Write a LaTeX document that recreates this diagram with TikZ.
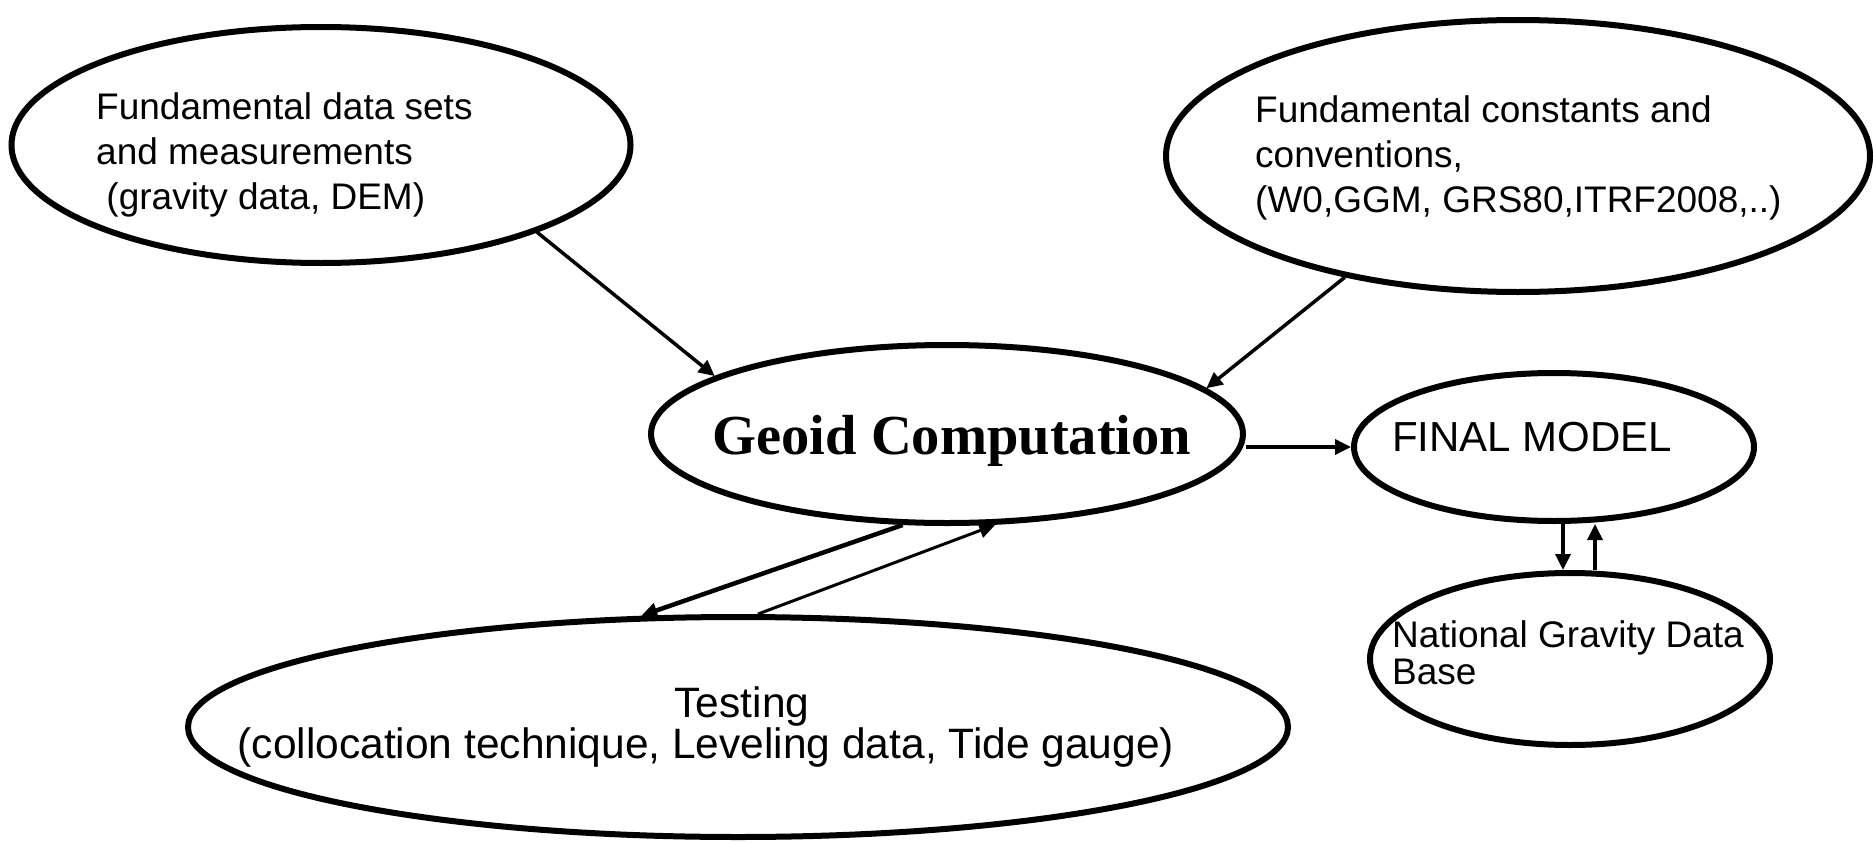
\documentclass[tikz,border=0pt]{standalone}
\usepackage{fontspec}
\setmainfont{Liberation Sans}
\newfontfamily\geoidfont{Liberation Serif}
\usetikzlibrary{shapes.geometric, arrows.meta, calc}

\begin{document}
\begin{tikzpicture}[x=1pt, y=-1pt,
    blob/.style={ellipse, draw=black, line width=6pt, inner sep=0pt},
    txt/.style={inner sep=0pt, align=left, font=\fontsize{37}{45}\selectfont},
    link/.style={line width=3.5pt, -{Triangle[length=16pt, width=15pt]}}]
\useasboundingbox (0,0) rectangle (1874,843);

% the ellipses
\node[blob, minimum width=619pt, minimum height=236pt] (data)  at (321,145) {};
\node[blob, minimum width=704pt, minimum height=272pt] (const) at (1518,156) {};
\node[blob, minimum width=592pt, minimum height=178pt] (geoid) at (947,434) {};
\node[blob, minimum width=400pt, minimum height=148pt] (final) at (1554,447) {};
\node[blob, minimum width=400pt, minimum height=172pt] (nat)   at (1570,659) {};
\node[blob, minimum width=1100pt, minimum height=220pt] (test) at (738,727) {};

% their texts
\node[txt, anchor=west] (datatext) at (96,155)
    {Fundamental data sets\\and measurements\\\ (gravity data, DEM)};
\node[txt, anchor=west] (consttext) at (1255,158)
    {Fundamental constants and\\conventions,\\(W0,GGM, GRS80,ITRF2008,..)};
\node[inner sep=0pt, font=\geoidfont\bfseries\fontsize{56.5}{60}\selectfont] (geoidtext)
    at (952,441) {Geoid Computation};
\node[txt, anchor=west, font=\fontsize{42}{45}\selectfont] (finaltext) at (1392,437)
    {FINAL MODEL};
\node[txt, anchor=west, font=\fontsize{37}{37}\selectfont] (nattext) at (1392,653)
    {National Gravity Data\\Base};
\node[txt, align=center, font=\fontsize{42.5}{39}\selectfont] (testtext) at (742,727)
    {Testing\\(collocation technique, Leveling data, Tide gauge)\hspace*{1.7em}};

% arrows
\draw[link] (data.-22) -- (geoid.166);
\draw[link] (const.215) -- (geoid.10);
\draw[link] (geoid.east |- final.west) -- (final.west);
\draw[link, line width=4.5pt] (geoid.244) -- (test.131);
\draw[link, line width=3pt] (test.80) -- (geoid.-62);
\draw[link] ($(final.south)+(9,0)$) -- ($(nat.north)+(-7,0)$);
\draw[link] ($(nat.north)+(25,0)$) -- ($(final.south)+(41,0)$);
\end{tikzpicture}
\end{document}
